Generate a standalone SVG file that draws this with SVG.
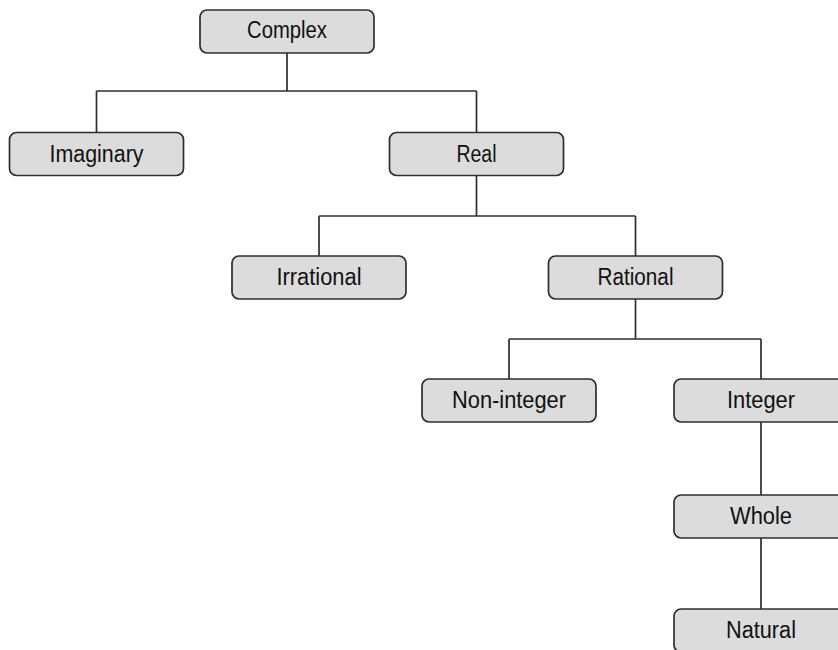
<svg xmlns="http://www.w3.org/2000/svg" width="838" height="650" viewBox="0 0 838 650">
<style>
.box{fill:#dcdcdd;stroke:#2e2e2e;stroke-width:1.7}
.lbl{font-family:"Liberation Sans",Arial,sans-serif;font-size:23.5px;fill:#111;text-anchor:middle}
.ln{fill:none;stroke:#2e2e2e;stroke-width:1.7}
</style>
<rect width="838" height="650" fill="#fff"/>
<g id="connectors">
<path class="ln" d="M287 53V91M96.5 91H476.5M96.5 91V133M476.5 91V133"/>
<path class="ln" d="M476.5 175V216M319 216H635.5M319 216V256M635.5 216V256"/>
<path class="ln" d="M635.5 299V339M509 339H761M509 339V379M761 339V379"/>
<path class="ln" d="M761 422V495M761 538V609"/>
</g>
<g id="complex"><rect class="box" x="200" y="10" width="174" height="43" rx="7"/><text class="lbl" x="287" y="38" textLength="80" lengthAdjust="spacingAndGlyphs">Complex</text></g>
<g id="imaginary"><rect class="box" x="9.5" y="132.5" width="174" height="43" rx="7"/><text class="lbl" x="96.5" y="161.5" textLength="94" lengthAdjust="spacingAndGlyphs">Imaginary</text></g>
<g id="real"><rect class="box" x="389.5" y="132.5" width="174" height="43" rx="7"/><text class="lbl" x="476.5" y="161.5" textLength="40" lengthAdjust="spacingAndGlyphs">Real</text></g>
<g id="irrational"><rect class="box" x="232" y="256" width="174" height="43" rx="7"/><text class="lbl" x="319" y="284.5" textLength="85" lengthAdjust="spacingAndGlyphs">Irrational</text></g>
<g id="rational"><rect class="box" x="548.5" y="256" width="174" height="43" rx="7"/><text class="lbl" x="635.5" y="284.5" textLength="76" lengthAdjust="spacingAndGlyphs">Rational</text></g>
<g id="noninteger"><rect class="box" x="422" y="379" width="174" height="43" rx="7"/><text class="lbl" x="509" y="407.5" textLength="114" lengthAdjust="spacingAndGlyphs">Non-integer</text></g>
<g id="integer"><rect class="box" x="674" y="379" width="174" height="43" rx="7"/><text class="lbl" x="761" y="407.5" textLength="68" lengthAdjust="spacingAndGlyphs">Integer</text></g>
<g id="whole"><rect class="box" x="674" y="495" width="174" height="43" rx="7"/><text class="lbl" x="761" y="523.5" textLength="62" lengthAdjust="spacingAndGlyphs">Whole</text></g>
<g id="natural"><rect class="box" x="674" y="609" width="174" height="43" rx="7"/><text class="lbl" x="761" y="637.5" textLength="70" lengthAdjust="spacingAndGlyphs">Natural</text></g>
</svg>
